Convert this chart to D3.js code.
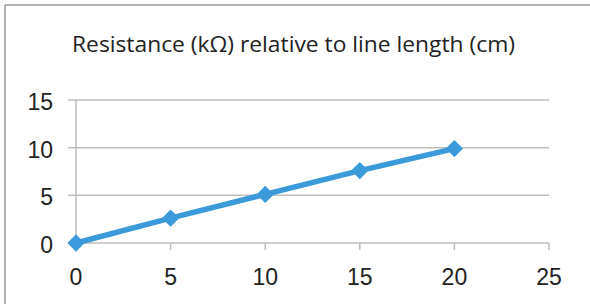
<!DOCTYPE html>
<html>
<head>
<meta charset="utf-8">
<script src="https://cdn.jsdelivr.net/npm/d3@7"></script>
<style>
  html, body { margin: 0; padding: 0; background: #fff; }
  svg { display: block; }
</style>
</head>
<body>
<div id="chart"></div>
<script>
// data
var lengths = [0, 5, 10, 15, 20];
var resistance = [0, 2.6, 5.1, 7.6, 9.9];
var xTicks = [0, 5, 10, 15, 20, 25];
var yTicks = [0, 5, 10, 15];
var title = "Resistance (k\u03A9) relative to line length (cm)";

var width = 590, height = 304;
var svg = d3.select("#chart").append("svg")
  .attr("width", width).attr("height", height);

// outer frame (only top and left edges show)
svg.append("line").attr("x1", 5).attr("y1", 5).attr("x2", width).attr("y2", 5)
  .attr("stroke", "#9a9a9a").attr("stroke-width", 1.5);
svg.append("line").attr("x1", 5).attr("y1", 5).attr("x2", 5).attr("y2", height)
  .attr("stroke", "#9a9a9a").attr("stroke-width", 1.5);

svg.append("text")
  .attr("x", 72).attr("y", 52)
  .attr("font-family", "'Open Sans', sans-serif")
  .attr("font-size", "22px")
  .attr("fill", "#222")
  .attr("textLength", 443)
  .attr("lengthAdjust", "spacingAndGlyphs")
  .text(title);

var x = d3.scaleLinear().domain([0, 25]).range([76, 549]);
var y = d3.scaleLinear().domain([0, 15]).range([243, 100]);

var grid = "#bdbdbd";

// horizontal gridlines with left tick stubs
svg.selectAll(".grid").data(yTicks).enter().append("line")
  .attr("x1", 68).attr("x2", 549)
  .attr("y1", function(d) { return y(d); })
  .attr("y2", function(d) { return y(d); })
  .attr("stroke", grid).attr("stroke-width", 1.5);

// y axis line
svg.append("line").attr("x1", x(0)).attr("x2", x(0))
  .attr("y1", y(15)).attr("y2", y(0))
  .attr("stroke", grid).attr("stroke-width", 1.5);

// x tick marks
svg.selectAll(".xtick").data(xTicks).enter().append("line")
  .attr("x1", function(d) { return x(d); })
  .attr("x2", function(d) { return x(d); })
  .attr("y1", y(0)).attr("y2", y(0) + 7)
  .attr("stroke", grid).attr("stroke-width", 1.5);

svg.selectAll(".ylab").data(yTicks).enter().append("text")
  .attr("x", 53)
  .attr("y", function(d) { return y(d) + 10; })
  .attr("text-anchor", "end")
  .attr("font-family", "'Liberation Sans', Arial, sans-serif")
  .attr("font-size", "23px")
  .attr("fill", "#222")
  .text(function(d) { return d; });

svg.selectAll(".xlab").data(xTicks).enter().append("text")
  .attr("x", function(d) { return x(d); })
  .attr("y", 285)
  .attr("text-anchor", "middle")
  .attr("font-family", "'Liberation Sans', Arial, sans-serif")
  .attr("font-size", "23px")
  .attr("fill", "#222")
  .text(function(d) { return d; });

var pts = lengths.map(function(d, i) { return [d, resistance[i]]; });
var color = "#3b9ad9";

svg.append("path")
  .datum(pts)
  .attr("fill", "none")
  .attr("stroke", color)
  .attr("stroke-width", 5.5)
  .attr("stroke-linejoin", "round")
  .attr("d", d3.line().x(function(d) { return x(d[0]); }).y(function(d) { return y(d[1]); }));

// d3.symbolDiamond2 is a square turned 45 degrees
var diamond = d3.symbol().type(d3.symbolDiamond2).size(190);
svg.selectAll(".pt").data(pts).enter().append("path")
  .attr("d", diamond)
  .attr("transform", function(d) { return "translate(" + x(d[0]) + "," + y(d[1]) + ")"; })
  .attr("fill", color);
</script>
</body>
</html>
